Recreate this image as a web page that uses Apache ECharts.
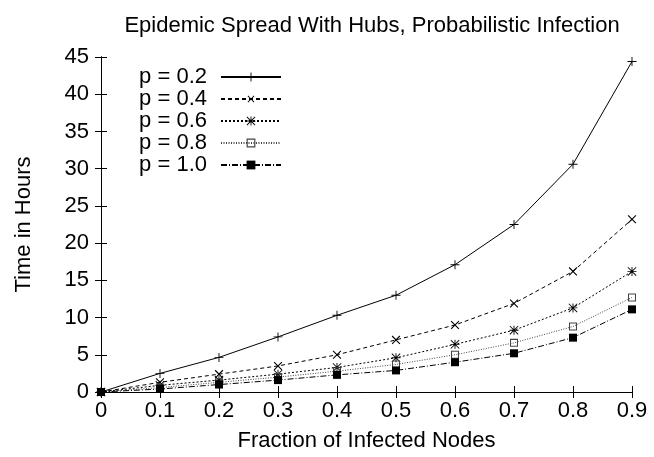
<!DOCTYPE html>
<html>
<head>
<meta charset="utf-8">
<script src="https://cdn.jsdelivr.net/npm/echarts@6/dist/echarts.min.js"></script>
<style>html,body{margin:0;padding:0;background:#fff;}#c{width:654px;height:457px;}</style>
</head>
<body>
<div id="c"></div>
<script>
const xValues = [0, 0.1, 0.2, 0.3, 0.4, 0.5, 0.6, 0.7, 0.8, 0.9];
const seriesNames = ['p = 0.2', 'p = 0.4', 'p = 0.6', 'p = 0.8', 'p = 1.0'];
const p02 = [0, 2.5, 4.65, 7.4, 10.3, 13.0, 17.1, 22.5, 30.6, 44.4];
const p04 = [0, 1.3, 2.4, 3.5, 5.0, 7.0, 9.0, 11.9, 16.2, 23.2];
const p06 = [0, 0.9, 1.6, 2.4, 3.3, 4.6, 6.4, 8.3, 11.3, 16.2];
const p08 = [0, 0.6, 1.3, 2.0, 2.8, 3.7, 5.0, 6.6, 8.8, 12.7];
const p10 = [0, 0.4, 1.0, 1.6, 2.3, 2.9, 4.0, 5.2, 7.3, 11.1];
const xTickLabels = ['0', '0.1', '0.2', '0.3', '0.4', '0.5', '0.6', '0.7', '0.8', '0.9'];

const FONT = 'Liberation Sans';
const FS = 22;
const plusPath = 'path://M4.5,0H5.5V4.5H10V5.5H5.5V10H4.5V5.5H0V4.5H4.5Z';
const starPath = 'path://M4.5,0H5.5V4.5H10V5.5H5.5V10H4.5V5.5H0V4.5H4.5Z M0.7,0L10,9.3L9.3,10L0,0.7Z M9.3,0L10,0.7L0.7,10L0,9.3Z';
const hollowPath = 'path://M0,0H10V10H0Z M1.3,1.3V8.7H8.7V1.3Z';

function pairs(arr) { return arr.map((v, i) => [xValues[i], v]); }

const styles = [
  { data: p02, symbol: plusPath, rot: 0, size: 9, line: 'solid', color: '#000' },
  { data: p04, symbol: plusPath, rot: 45, size: 11, line: [4, 3], color: '#000' },
  { data: p06, symbol: starPath, rot: 0, size: 9, line: [2, 2], color: '#000' },
  { data: p08, symbol: hollowPath, rot: 0, size: 8, line: [1, 1.5], color: '#444' },
  { data: p10, symbol: 'rect', rot: 0, size: 8, line: [6, 2, 1, 2], color: '#000' }
];

const series = styles.map((s, i) => ({
  name: seriesNames[i],
  type: 'line',
  data: pairs(s.data),
  symbol: s.symbol,
  symbolRotate: s.rot,
  symbolSize: s.size,
  showAllSymbol: true,
  animation: false,
  lineStyle: { color: s.color, width: 1, type: s.line },
  itemStyle: { color: s.color, borderWidth: 0 },
  xAxisIndex: 0,
  yAxisIndex: 0
}));

const axisLineStyle = { show: true, lineStyle: { color: '#000', width: 1 } };
const tickStyle = { show: true, inside: true, length: 6, lineStyle: { color: '#000', width: 1 } };

const chart = echarts.init(document.getElementById('c'), null, { renderer: 'canvas' });
chart.setOption({
  backgroundColor: '#fff',
  animation: false,
  title: {
    text: 'Epidemic Spread With Hubs, Probabilistic Infection',
    left: 367, top: 10, textAlign: 'center',
    textStyle: { fontFamily: FONT, fontSize: FS, fontWeight: 'normal', color: '#000' }
  },
  legend: {
    orient: 'vertical',
    right: 367,
    top: 61,
    align: 'right',
    itemWidth: 60,
    itemHeight: 11,
    itemGap: 0,
    data: seriesNames,
    textStyle: { fontFamily: FONT, fontSize: FS, color: '#000', lineHeight: 22, padding: [0, 9, 0, 0] }
  },
  grid: { left: 101, right: 22, top: 57, bottom: 65 },
  xAxis: [{
    type: 'value', min: 0, max: 0.9, interval: 0.1,
    name: 'Fraction of Infected Nodes', nameLocation: 'middle', nameGap: 38,
    nameTextStyle: { fontFamily: FONT, fontSize: FS, color: '#000' },
    axisLine: axisLineStyle, axisTick: tickStyle, splitLine: { show: false },
    axisLabel: { fontFamily: FONT, fontSize: FS, color: '#000', margin: 8,
      formatter: (v) => xTickLabels[Math.round(v * 10)] }
  }, {
    type: 'value', min: 0, max: 0.9, interval: 0.1, position: 'top',
    axisLine: axisLineStyle, axisTick: tickStyle, splitLine: { show: false }, axisLabel: { show: false }
  }],
  yAxis: [{
    type: 'value', min: 0, max: 45, interval: 5,
    name: 'Time in Hours', nameLocation: 'middle', nameGap: 66, nameRotate: 90,
    nameTextStyle: { fontFamily: FONT, fontSize: FS, color: '#000' },
    axisLine: axisLineStyle, axisTick: tickStyle, splitLine: { show: false },
    axisLabel: { fontFamily: FONT, fontSize: FS, color: '#000', margin: 12 }
  }, {
    type: 'value', min: 0, max: 45, interval: 5, position: 'right',
    axisLine: axisLineStyle, axisTick: tickStyle, splitLine: { show: false }, axisLabel: { show: false }
  }],
  series: series
});
</script>
</body>
</html>
